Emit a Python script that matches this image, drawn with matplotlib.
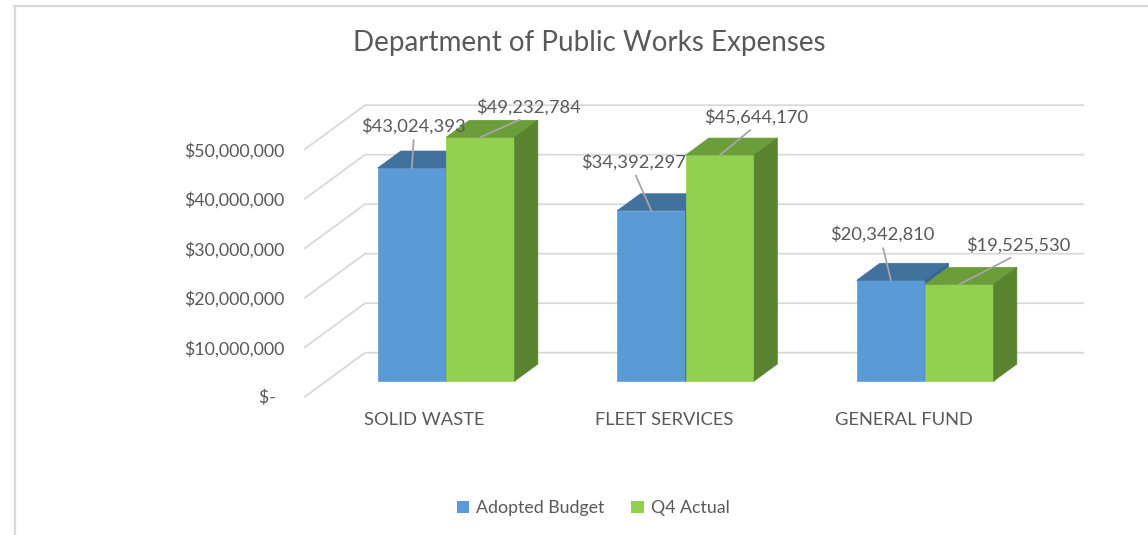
import matplotlib.pyplot as plt
from matplotlib.patches import Polygon, Patch
from matplotlib.lines import Line2D
from matplotlib.ticker import FuncFormatter

# data
categories = ['SOLID WASTE', 'FLEET SERVICES', 'GENERAL FUND']
series_names = ['Adopted Budget', 'Q4 Actual']
adopted_budget = [43024393, 34392297, 20342810]
q4_actual = [49232784, 45644170, 19525530]

# face colours: front, top, side
palette = {
    'Adopted Budget': ('#5B9BD5', '#41719C', '#386690'),
    'Q4 Actual': ('#92D050', '#6B9E3A', '#5A8330'),
}
text_color = '#595959'
grid_color = '#D9D9D9'
plt.rcParams['font.family'] = ['Lato', 'DejaVu Sans']
FS = 12.8

W, H = 1148, 535
fig = plt.figure(figsize=(W / 100, H / 100), dpi=100)

# axes = the front plane of the 3d box (pixel layout)
AX_L, AX_B, AX_W, AX_H = 305, 138.3, 718.5, 297
ax = fig.add_axes([AX_L / W, AX_B / H, AX_W / W, AX_H / H])
YMAX = 60e6
ax.set_xlim(-0.5, len(categories) - 0.5)
ax.set_ylim(0, YMAX)

px_x = AX_W / len(categories)
px_y = AX_H / YMAX
SLOPE = 60 / 44          # horizontal px per vertical px of depth
WALL = 44                # depth of back wall
BAR_D0, BAR_D1 = 15.7, 32.7
BAR_W = 68.5 / px_x


def shift(x, y, d):
    """oblique projection: push a point back by depth d (pixels)"""
    return x + d * SLOPE / px_x, y + d / px_y


# gridlines on the side wall and back wall
ticks = [0, 10e6, 20e6, 30e6, 40e6, 50e6]
x0, x1 = ax.get_xlim()
for t in ticks:
    p0 = shift(x0, t, 0)
    p1 = shift(x0, t, WALL)
    p2 = shift(x1, t, WALL)
    ax.plot([p0[0], p1[0], p2[0]], [p0[1], p1[1], p2[1]],
            color=grid_color, lw=1.3, zorder=1, clip_on=False)


def draw_bar(xa, xb, v, colors):
    front, top, side = colors
    quads = [
        ([(xa, 0, BAR_D0), (xb, 0, BAR_D0), (xb, v, BAR_D0), (xa, v, BAR_D0)], front),
        ([(xa, v, BAR_D0), (xb, v, BAR_D0), (xb, v, BAR_D1), (xa, v, BAR_D1)], top),
        ([(xb, 0, BAR_D0), (xb, v, BAR_D0), (xb, v, BAR_D1), (xb, 0, BAR_D1)], side),
    ]
    for pts, c in quads:
        poly = Polygon([shift(*p) for p in pts], closed=True, facecolor=c,
                       edgecolor=c, lw=0.5, zorder=3, clip_on=False)
        ax.add_patch(poly)


# label offsets in pixels from the bar's top-front centre
label_offsets = {
    'Adopted Budget': [(2, 42), (-18, 49), (-9, 46)],
    'Q4 Actual': [(48, 30), (36, 38), (59, 39)],
}

for i, cat in enumerate(categories):
    for name, vals, xa, xb in [
        ('Adopted Budget', adopted_budget, i - BAR_W, i),
        ('Q4 Actual', q4_actual, i, i + BAR_W),
    ]:
        v = vals[i]
        draw_bar(xa, xb, v, palette[name])
        anchor = shift((xa + xb) / 2, v, BAR_D0)
        ax.annotate(f'${v:,.0f}', xy=anchor, xytext=label_offsets[name][i],
                    textcoords='offset pixels', ha='center', va='center',
                    fontsize=13.2, color=text_color, zorder=5,
                    arrowprops=dict(arrowstyle='-', color='#A6A6A6', lw=1.3,
                                    shrinkA=2, shrinkB=0, relpos=(0.5, 0)))

# axes text
ax.set_yticks(ticks)
ax.yaxis.set_major_formatter(FuncFormatter(
    lambda v, p: '$-  ' if v == 0 else f'${v:,.0f}'))
ax.set_xticks(range(len(categories)))
ax.set_xticklabels(categories)
ax.tick_params(axis='y', length=0, pad=14.5, labelsize=FS, labelcolor=text_color)
ax.tick_params(axis='x', length=0, pad=11, labelsize=13.2, labelcolor=text_color)
for s in ax.spines.values():
    s.set_visible(False)
ax.patch.set_visible(False)

fig.text(589 / W, 1 - 43 / H, 'Department of Public Works Expenses',
         ha='center', va='center', fontsize=20, color=text_color)

handles = [Patch(facecolor=palette[n][0], label=n) for n in series_names]
fig.legend(handles=handles, loc='center', bbox_to_anchor=(593 / W, 1 - 508 / H),
           ncol=2, frameon=False, fontsize=FS, labelcolor=text_color,
           handlelength=0.7, handleheight=0.7, handletextpad=0.4,
           columnspacing=1.5)

# chart border (top and left edges)
fig.add_artist(Line2D([14 / W, 1], [1 - 6 / H, 1 - 6 / H], color=grid_color,
                      lw=1.6, transform=fig.transFigure))
fig.add_artist(Line2D([15 / W, 15 / W], [1 - 6 / H, 0], color=grid_color,
                      lw=1.6, transform=fig.transFigure))

fig.savefig('out.png', dpi=100, facecolor='white')
